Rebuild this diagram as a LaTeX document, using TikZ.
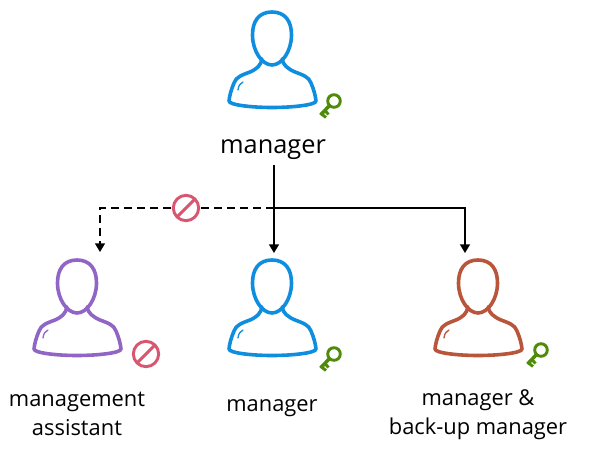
\documentclass[tikz,border=0pt]{standalone}
\usepackage{fontspec}
\setmainfont{Open Sans}
\usetikzlibrary{arrows.meta}
\definecolor{mgrblue}{HTML}{0F8EE0}
\definecolor{asspurple}{HTML}{9065C6}
\definecolor{bakorange}{HTML}{B9553A}
\definecolor{keygreen}{HTML}{4F8A0B}
\definecolor{stopred}{HTML}{D8566F}
\begin{document}
\begin{tikzpicture}[
  x=0.75pt, y=-0.75pt,
  bigtxt/.style={font=\fontsize{19}{24}\selectfont, align=center, inner sep=0pt},
  txt/.style={font=\fontsize{16.4}{22}\selectfont, align=center, inner sep=0pt},
  arr/.style={-{Triangle[length=6.5pt,width=7.5pt]}, line width=1.1pt},
  dashline/.style={line width=1.1pt, dash pattern=on 6pt off 3.8pt},
  nosign/.style={circle, draw=stopred, line width=2.2pt, minimum size=19pt, inner sep=0pt, outer sep=1.5pt,
    path picture={\draw[stopred, line width=2.2pt] (path picture bounding box.south west) -- (path picture bounding box.north east);}},
  pics/person/.style={code={
    \draw[#1, line width=2.7pt, line join=round]
      (0,0) .. controls (13,0) and (19.5,9) .. (19.5,23) .. controls (19.5,39) and (10,53) .. (0,53)
      .. controls (-10,53) and (-19.5,39) .. (-19.5,23) .. controls (-19.5,9) and (-13,0) .. (0,0) -- cycle;
    \draw[#1, line width=2.7pt, line cap=round, line join=round]
      (-10,47) .. controls (-11,53) and (-15,57) .. (-22,60) .. controls (-30,63) and (-36,65) .. (-38,71)
      .. controls (-41,78) and (-42.5,84) .. (-43,89) .. controls (-43,93) and (-20,95.5) .. (0,95.5)
      .. controls (20,95.5) and (44,93) .. (44,89) .. controls (43.5,84) and (42,78) .. (39,71)
      .. controls (37,65) and (31,63) .. (23,60) .. controls (16,57) and (11,53) .. (10,47);
    \draw[#1, line width=1pt, line cap=round] (-34,78) .. controls (-33.5,74) and (-32,71) .. (-29,70);
  }},
  pics/key/.style={code={
    \draw[keygreen, line width=2.2pt] (0,0) circle (6.3);
    \draw[keygreen, line width=2.6pt] (-4.5,4.5) -- (-13.5,14);
    \draw[keygreen, line width=2.2pt] (-9,9.5) -- (-5.5,13.5) (-12.5,13) -- (-8,16.5);
  }}
]
  \useasboundingbox (0,0) rectangle (590,450);
  \pic at (272,12) {person=mgrblue};
  \pic at (77,260) {person=asspurple};
  \pic at (272,260) {person=mgrblue};
  \pic at (478,260) {person=bakorange};
  \pic at (334,101) {key};
  \pic at (334,354) {key};
  \pic at (541,350) {key};

  \node[bigtxt] (mgr) at (273,150) {manager};
  \node[txt] (asstxt) at (77,414) {management\\assistant};
  \node[txt] (midtxt) at (272,408) {manager};
  \node[txt] (baktxt) at (478,415) {manager \&\\back-up manager};
  \node[nosign] (block) at (186,208) {};
  \node[nosign] (blockass) at (146,354) {};

  \coordinate (branch) at (274,208);
  \coordinate (assin) at (100,252);
  \coordinate (midin) at (274,253);
  \coordinate (bakin) at (465,253);
  \draw[arr] (mgr.south -| branch) ++(0,5) -- (midin);
  \draw[arr] (branch) -| (bakin);
  \draw[dashline] (branch) -- (block.east);
  \draw[dashline, arr] (block.west) -| (assin);
\end{tikzpicture}
\end{document}
